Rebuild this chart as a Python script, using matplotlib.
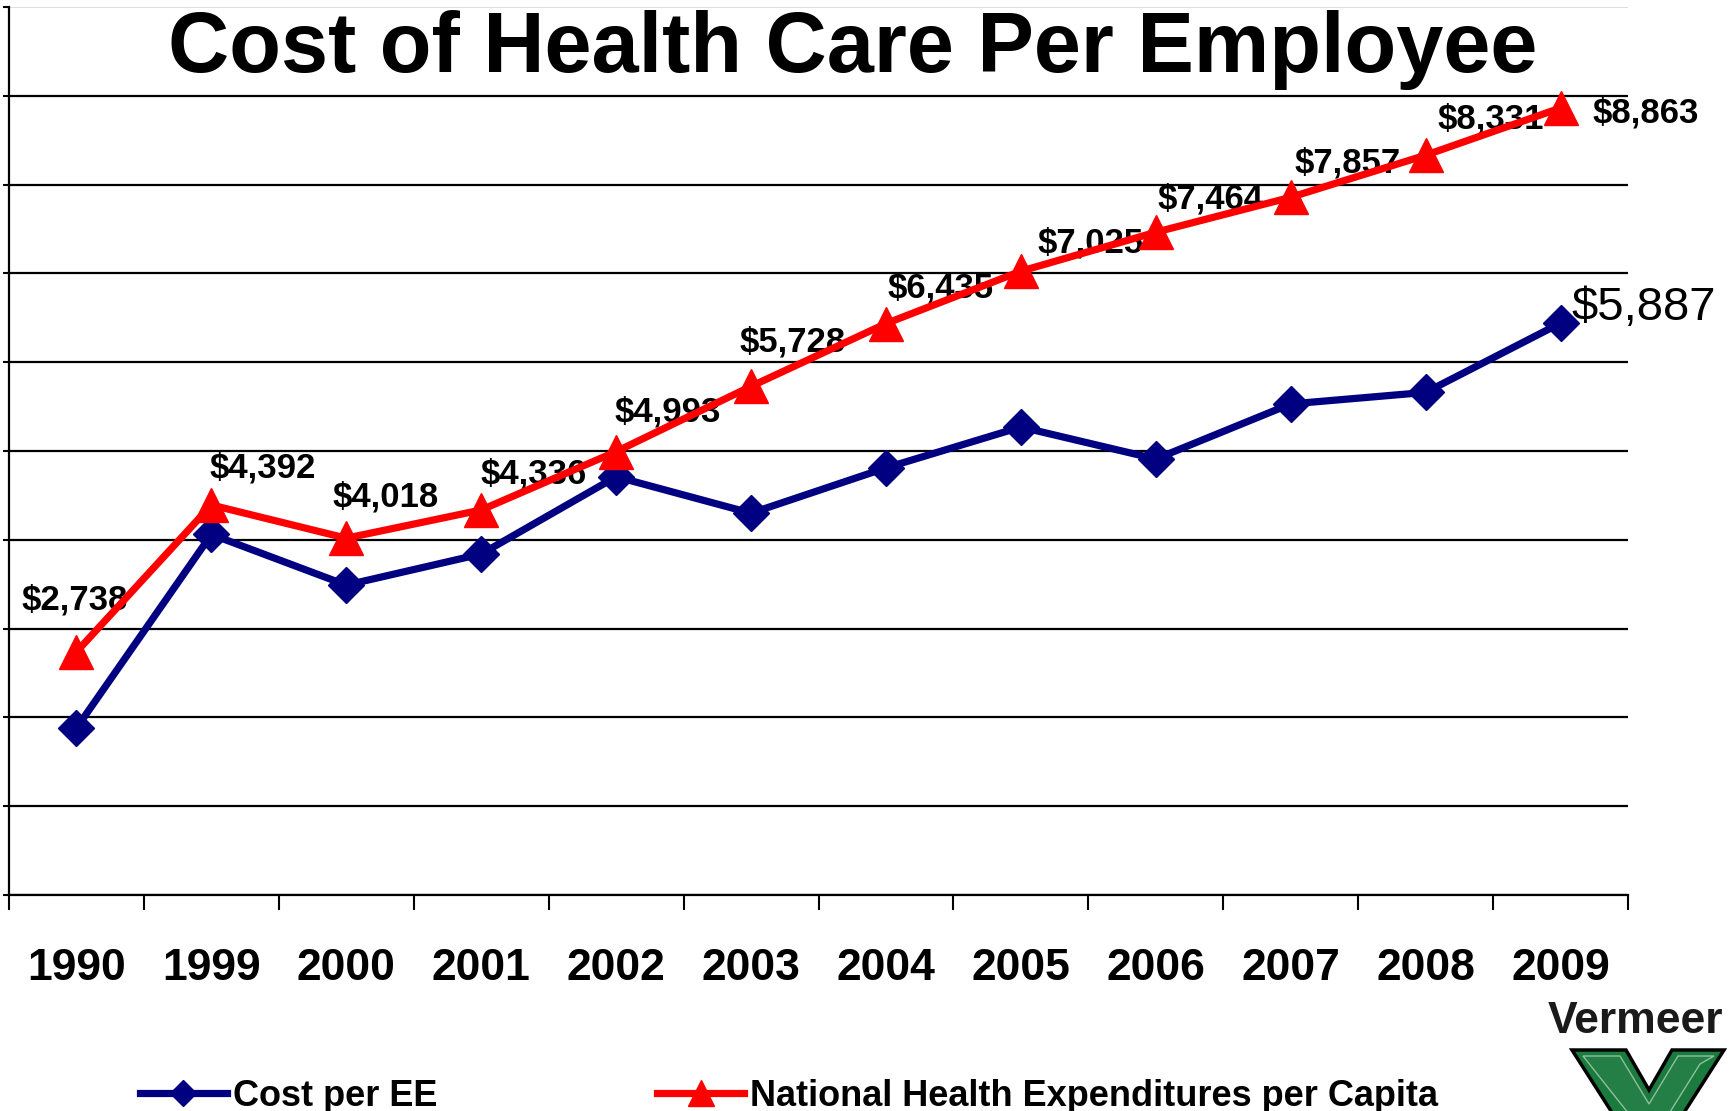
import numpy as np
import matplotlib
matplotlib.use("Agg")
import matplotlib.pyplot as plt
from matplotlib.patches import Polygon

plt.rcParams['font.family'] = ['Liberation Sans', 'DejaVu Sans']

# ---- data ----
years = ["1990", "1999", "2000", "2001", "2002", "2003", "2004", "2005",
         "2006", "2007", "2008", "2009"]
cost_per_ee = [1880, 4060, 3490, 3840, 4710, 4300, 4810, 5270, 4910, 5530, 5660, 6440]
nhe_per_capita = [2738, 4392, 4018, 4336, 4993, 5728, 6435, 7025, 7464, 7857, 8331, 8863]
nhe_labels = ["$2,738", "$4,392", "$4,018", "$4,336", "$4,993", "$5,728", "$6,435",
              "$7,025", "$7,464", "$7,857", "$8,331", "$8,863"]
cost_last_label = "$5,887"
series_names = ["Cost per EE", "National Health Expenditures per Capita"]
title = "Cost of Health Care Per Employee"

# label offsets (pixels) relative to each red point
nhe_offsets = [(-2, 52), (51, 37), (39, 41), (52, 36), (52, 40), (42, 44),
               (55, 36), (70, 28), (55, 33), (57, 34), (65, 36), (85, -5)]

W, H = 1732, 1111
fig = plt.figure(figsize=(W / 100, H / 100), dpi=100)
fig.patch.set_facecolor('white')

def fx(px):
    return px / W

def fy(py):
    return 1 - py / H

ax = fig.add_axes([fx(9), fy(895), fx(1628) - fx(9), fy(7) - fy(895)])
x = np.arange(len(years))

blue = '#000080'
red = '#ff0000'

lb, = ax.plot(x, cost_per_ee, color=blue, lw=5.2, marker='D', markersize=18,
              zorder=3, solid_joinstyle='miter')
lr, = ax.plot(x, nhe_per_capita, color=red, lw=5.2, marker='^', markersize=25,
              zorder=4, solid_joinstyle='miter')

for xi, yi, lab, off in zip(x, nhe_per_capita, nhe_labels, nhe_offsets):
    ax.annotate(lab, (xi, yi), xytext=off, textcoords='offset pixels',
                ha='center', va='center', fontsize=25, fontweight='bold',
                color='black', zorder=2, annotation_clip=False)

ax.annotate(cost_last_label, (x[-1], cost_per_ee[-1]), xytext=(83, 15),
            textcoords='offset pixels', ha='center', va='center', fontsize=34,
            color='black', zorder=2, annotation_clip=False)

ax.set_xlim(-0.5, len(years) - 0.5)
ax.set_ylim(0, 10000)

ax.set_xticks(np.arange(-0.5, len(years), 1))
ax.set_xticklabels([])
ax.set_xticks(x, minor=True)
ax.set_xticklabels(years, minor=True, fontsize=32, fontweight='bold')
ax.tick_params(axis='x', which='major', direction='out', length=11, width=1.5,
               color='black')
ax.tick_params(axis='x', which='minor', length=0, pad=38)

ax.set_yticks(np.arange(0, 10001, 1000))
ax.set_yticklabels([])
ax.tick_params(axis='y', direction='out', length=4, width=1.5, color='black')

ax.yaxis.grid(True, color='black', lw=1.6, zorder=1)
ax.set_axisbelow(True)
gls = ax.get_ygridlines()
gls[-1].set_color('#d8d8d8')
gls[-1].set_linewidth(1.2)

for s in ['top', 'right']:
    ax.spines[s].set_visible(False)
for s in ['left', 'bottom']:
    ax.spines[s].set_linewidth(1.6)
    ax.spines[s].set_color('black')

fig.text(fx(853), fy(72), title, ha='center', va='baseline', fontsize=61,
         fontweight='bold', color='black')

leg = fig.legend([lb, lr], series_names, loc='center left',
                 bbox_to_anchor=(fx(140), fy(1096)), ncol=2, frameon=False,
                 prop={'weight': 'bold', 'size': 26},
                 handlelength=2.4, handletextpad=0.17, columnspacing=6.1,
                 borderpad=0, borderaxespad=0, markerscale=0.75)

# Vermeer logo (decorative)
fig.text(fx(1548), fy(1033), "Vermeer", ha='left', va='baseline', fontsize=32,
         fontweight='heavy', color='#1a1a1a')
outer = [(1572, 1050), (1626, 1050), (1649, 1090), (1672, 1050), (1724, 1050),
         (1660, 1150), (1636, 1150)]
fig.add_artist(Polygon([(fx(a), fy(b)) for a, b in outer], closed=True,
                       facecolor='#1b7a3e', edgecolor='black', lw=2.5,
                       transform=fig.transFigure))
inner = [(1583, 1056), (1620, 1056), (1649, 1104), (1678, 1056), (1714, 1056),
         (1700, 1064), (1660, 1128), (1640, 1128)]
fig.add_artist(Polygon([(fx(a), fy(b)) for a, b in inner], closed=True,
                       facecolor='#237f45', edgecolor='#8fbf9f', lw=1,
                       transform=fig.transFigure))

fig.savefig('out.png', dpi=100, facecolor='white')
